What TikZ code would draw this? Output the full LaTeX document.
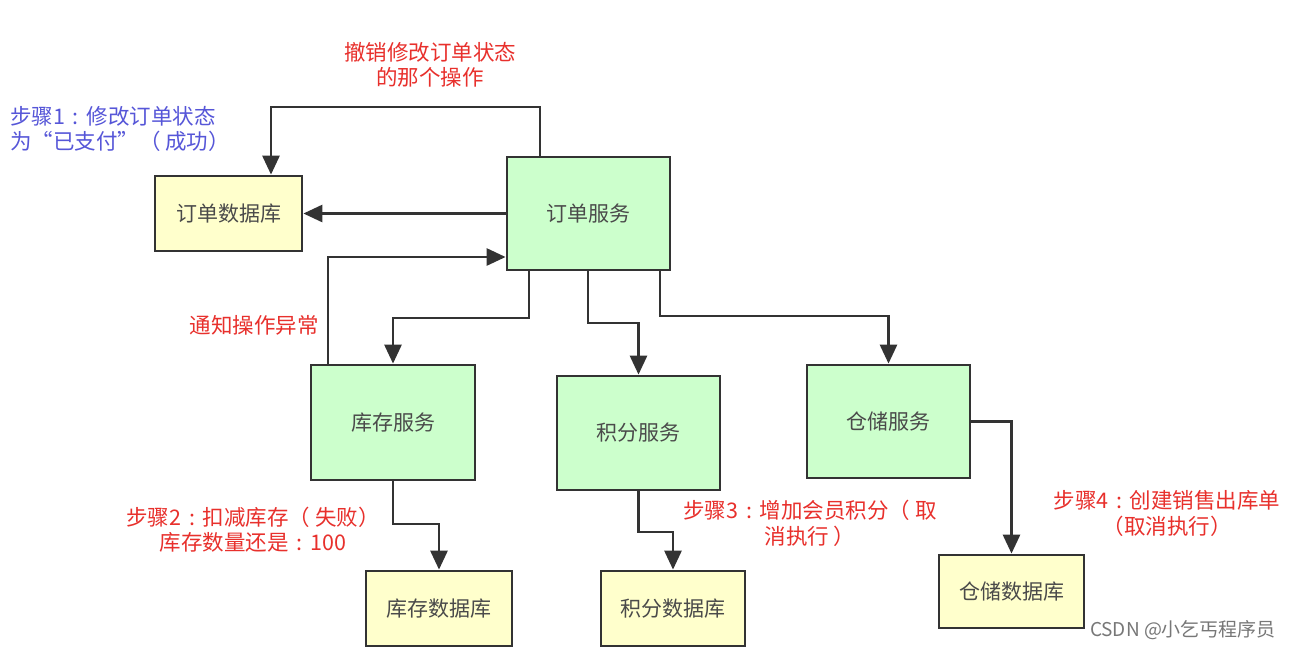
\documentclass[tikz,border=0pt]{standalone}
\usepackage{fontspec}
\setmainfont{Noto Sans CJK SC}
\usetikzlibrary{arrows.meta}
\definecolor{ln}{HTML}{333333}
\definecolor{gfill}{HTML}{CCFFCC}
\definecolor{yfill}{HTML}{FFFFCC}
\definecolor{boxtxt}{HTML}{4A4A4A}
\definecolor{redtxt}{HTML}{E8302C}
\definecolor{bluetxt}{HTML}{5656D8}
\definecolor{wmtxt}{HTML}{777777}
\newcommand{\cc}{\makebox[1em]{:}}
\begin{document}
\begin{tikzpicture}[x=1pt,y=-1pt,
  box/.style={draw=ln, line width=2.8pt, text=boxtxt, inner sep=0pt,
    font=\fontsize{21pt}{25pt}\selectfont},
  gbox/.style={box, fill=gfill},
  ybox/.style={box, fill=yfill},
  arr/.style={draw=ln, line width=2.8pt, -{Triangle[length=19pt,width=17pt]}},
  lbl/.style={inner sep=0pt, align=center, font=\fontsize{21.5pt}{25.5pt}\selectfont},
  redlbl/.style={lbl, text=redtxt},
  bluelbl/.style={lbl, text=bluetxt, align=left}]
\useasboundingbox (0,0) rectangle (1294,649);
\fill[white] (0,0) rectangle (1294,649);

% nodes
\node[gbox, minimum width=163pt, minimum height=113pt] (os) at (588.5,213.5) {订单服务};
\node[ybox, minimum width=147pt, minimum height=75pt] (odb) at (228.5,213.5) {订单数据库};
\node[gbox, minimum width=164pt, minimum height=115pt] (kc) at (393,422.5) {库存服务};
\node[gbox, minimum width=163pt, minimum height=114pt] (jf) at (638.5,433) {积分服务};
\node[gbox, minimum width=163pt, minimum height=113pt] (cc) at (888.5,421.5) {仓储服务};
\node[ybox, minimum width=146pt, minimum height=75pt] (kcdb) at (439,608.5) {库存数据库};
\node[ybox, minimum width=144pt, minimum height=75pt] (jfdb) at (673,608.5) {积分数据库};
\node[ybox, minimum width=145pt, minimum height=73pt] (ccdb) at (1011.5,591.5) {仓储数据库};

% connectors
\draw[arr] (os.north -| 540,0) -- (540,107) -| (odb.north -| 271,0);
\draw[arr] (os.west) -- (odb.east);
\draw[arr] (kc.north -| 328,0) |- (os.west |- 0,257);
\draw[arr] (os.south -| 529,0) -- (529,318) -| (kc.north);
\draw[arr] (os.south -| 588,0) -- (588,323) -| (jf.north);
\draw[arr] (os.south -| 660,0) -- (660,316) -| (cc.north);
\draw[arr] (kc.south) -- (kc.south |- 0,524) -| (kcdb.north);
\draw[arr] (jf.south) -- (jf.south |- 0,532) -| (jfdb.north);
\draw[arr] (cc.east) -| (ccdb.north);

% labels
\node[redlbl] (l0) at (430,65) {撤销修改订单状态\\的那个操作};
\node[bluelbl, anchor=west] (l1) at (10,129) {步骤1\cc 修改订单状态\\为“已支付”（ 成功）};
\node[redlbl] (l2) at (254,325) {通知操作异常};
\node[redlbl] (l3) at (253,529.5) {步骤2\cc 扣减库存（ 失败）\\库存数量还是\cc 100};
\node[redlbl] (l4) at (810,523.5) {步骤3\cc 增加会员积分（ 取\\消执行 ）};
\node[redlbl] (l5) at (1167,513.5) {步骤4\cc 创建销售出库单\\（取消执行）};
\node[inner sep=0pt, text=wmtxt, font=\fontsize{19pt}{22pt}\selectfont] (wm) at (1183,630) {CSDN @小乞丐程序员};
\end{tikzpicture}
\end{document}
